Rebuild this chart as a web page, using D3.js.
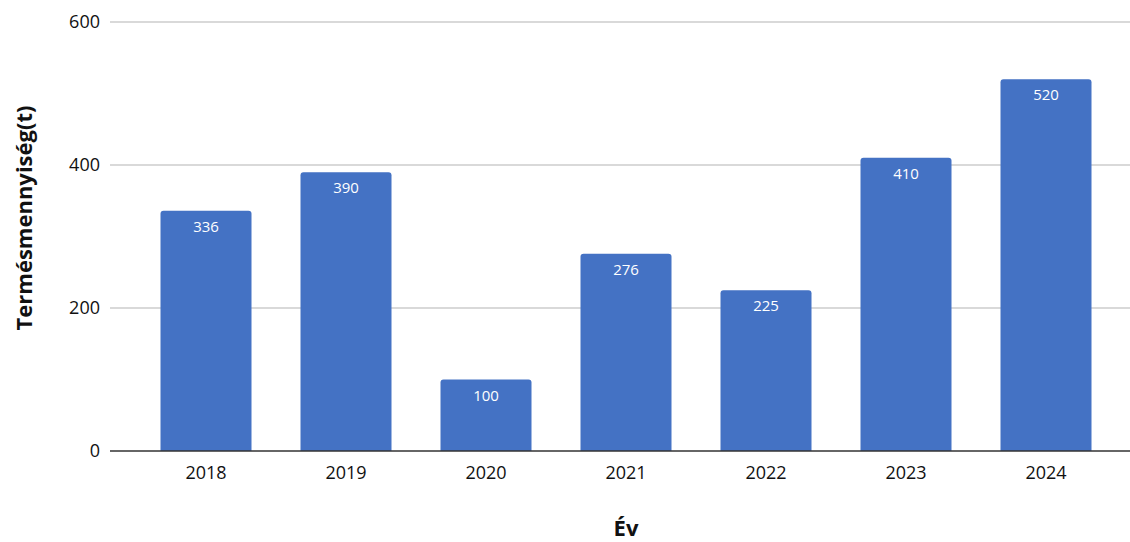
<!DOCTYPE html>
<html>
<head>
<meta charset="utf-8">
<script src="https://cdn.jsdelivr.net/npm/d3@7"></script>
<style>
  body { margin: 0; background: #fff; }
  svg { display: block; }
</style>
</head>
<body>
<div id="chart"></div>
<script>
// data
var years = ["2018", "2019", "2020", "2021", "2022", "2023", "2024"];
var yields = [336, 390, 100, 276, 225, 410, 520];
var yTicks = [0, 200, 400, 600];

var svgWidth = 1130;
var svgHeight = 542;

var svg = d3.select("#chart")
  .append("svg")
  .attr("width", svgWidth)
  .attr("height", svgHeight);

// scales
var xScale = d3.scaleBand()
  .domain(years)
  .range([136, 1116])
  .paddingInner(0.35)
  .paddingOuter(0.175);

var yScale = d3.scaleLinear()
  .domain([0, 600])
  .range([451, 22]);

// gridlines
svg.append("g")
  .selectAll("line")
  .data(yTicks.filter(d => d > 0))
  .enter()
  .append("line")
  .attr("x1", 110)
  .attr("x2", 1130)
  .attr("y1", d => yScale(d))
  .attr("y2", d => yScale(d))
  .attr("stroke", "#cccccc")
  .attr("stroke-width", 1.3);

// y axis labels
var leftAxis = d3.axisLeft(yScale).tickValues(yTicks).tickSize(0).tickPadding(10);
var yAxisG = svg.append("g")
  .attr("transform", "translate(110,0)")
  .call(leftAxis);
yAxisG.select(".domain").remove();
yAxisG.selectAll("text")
  .attr("font-family", "'Open Sans', sans-serif")
  .attr("font-size", "18px")
  .attr("fill", "#111");

// bars with slightly rounded tops
function barPath(d, i) {
  var x0 = xScale(years[i]);
  var w = xScale.bandwidth();
  var y0 = yScale(d);
  var yb = yScale(0);
  var r = 3;
  return "M" + x0 + "," + yb +
    "V" + (y0 + r) +
    "Q" + x0 + "," + y0 + " " + (x0 + r) + "," + y0 +
    "H" + (x0 + w - r) +
    "Q" + (x0 + w) + "," + y0 + " " + (x0 + w) + "," + (y0 + r) +
    "V" + yb + "Z";
}

svg.append("g")
  .selectAll("path")
  .data(yields)
  .enter()
  .append("path")
  .attr("d", barPath)
  .attr("fill", "#4472C4");

// value labels
svg.append("g")
  .selectAll("text")
  .data(yields)
  .enter()
  .append("text")
  .attr("x", (d, i) => xScale(years[i]) + xScale.bandwidth() / 2)
  .attr("y", d => yScale(d) + 21)
  .attr("text-anchor", "middle")
  .attr("font-family", "'Open Sans', sans-serif")
  .attr("font-size", "15px")
  .attr("fill", "#ffffff")
  .text(d => d);

// x axis
var bottomAxis = d3.axisBottom(xScale).tickSize(0).tickPadding(15);
var xAxisG = svg.append("g")
  .attr("transform", "translate(0,451)")
  .call(bottomAxis);
xAxisG.select(".domain").remove();
xAxisG.selectAll("text")
  .attr("font-family", "'Open Sans', sans-serif")
  .attr("font-size", "18px")
  .attr("fill", "#111");

svg.append("line")
  .attr("x1", 110)
  .attr("x2", 1130)
  .attr("y1", 451)
  .attr("y2", 451)
  .attr("stroke", "#333")
  .attr("stroke-width", 1.5);

// axis titles
svg.append("text")
  .attr("transform", "translate(32,218) rotate(-90)")
  .attr("text-anchor", "middle")
  .attr("font-family", "'Open Sans', sans-serif")
  .attr("font-weight", "bold")
  .attr("font-size", "22px")
  .attr("fill", "#111")
  .text("Termésmennyiség(t)");

svg.append("text")
  .attr("x", 626)
  .attr("y", 536)
  .attr("text-anchor", "middle")
  .attr("font-family", "'Open Sans', sans-serif")
  .attr("font-weight", "bold")
  .attr("font-size", "22px")
  .attr("fill", "#111")
  .text("Év");
</script>
</body>
</html>
